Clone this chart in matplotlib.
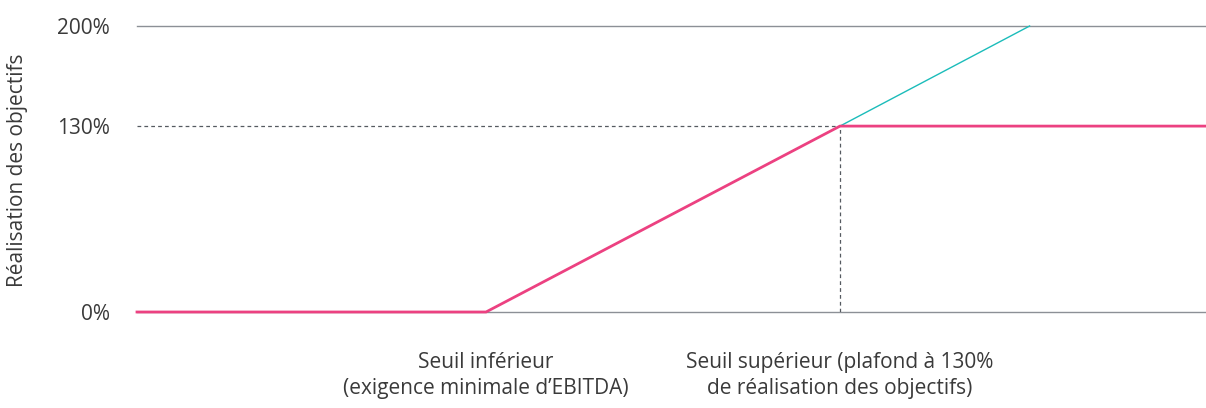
import matplotlib
matplotlib.use("Agg")
import matplotlib.pyplot as plt

# Data (x in arbitrary performance units, y in % achievement)
capped_x = [0, 32.65, 65.76, 100]
capped_y = [0, 0, 130, 130]
uncapped_x = [65.76, 83.5]
uncapped_y = [130, 200]
threshold_x = [32.65, 65.76]
threshold_labels = ["Seuil inférieur\n(exigence minimale d\u2019EBITDA)",
                    "Seuil supérieur (plafond à 130%\nde réalisation des objectifs)"]
y_ticks = [0, 130, 200]
y_ticklabels = ["0%", "130%", "200%"]
y_label = "Réalisation des objectifs"

plt.rcParams['font.family'] = ['Open Sans', 'DejaVu Sans']
text_color = "#3a3a3a"
FS = 15

fig = plt.figure(figsize=(12.06, 4.08), dpi=100)
ax = fig.add_axes([137/1206, 1-312/408, 1-137/1206, (312-26)/408])
ax.set_xlim(0, 100)
ax.set_ylim(0, 200)

grid_color = "#8c9096"
ax.axhline(200, color=grid_color, lw=1.0, clip_on=False, zorder=1)
ax.axhline(0, color=grid_color, lw=1.0, clip_on=False, zorder=1)

cap_x = threshold_x[1]
ax.plot([0, cap_x], [130, 130], color="#555a60", lw=0.9, ls=(0, (3, 2.5)), zorder=2)
ax.plot([cap_x, cap_x], [0, 130], color="#555a60", lw=0.9, ls=(0, (3, 2.5)), zorder=2)

ax.plot(uncapped_x, uncapped_y, color="#1bbcba", lw=1.0, zorder=3, clip_on=False)
ax.plot(capped_x, capped_y, color="#ec4181", lw=2.0, zorder=4, clip_on=False,
        solid_joinstyle="miter")

for s in ax.spines.values():
    s.set_visible(False)

ax.set_yticks(y_ticks)
ax.set_yticklabels(y_ticklabels, fontsize=FS, color=text_color)
ax.tick_params(axis="y", length=0, pad=19.5)
ax.set_xticks(threshold_x)
ax.set_xticklabels(threshold_labels, fontsize=FS, color=text_color,
                   linespacing=1.3, ha="center")
ax.tick_params(axis="x", length=0, pad=29)

fig.text(18/1206, 1-170/408, y_label, rotation=90, ha="center", va="center",
         fontsize=FS, color=text_color)

fig.savefig("out.png", dpi=100)
